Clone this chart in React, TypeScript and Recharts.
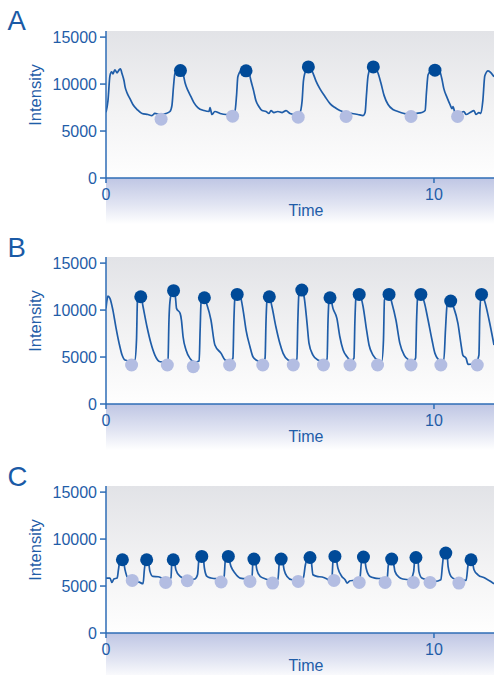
import React from "react";
import { ComposedChart, Line, Scatter, XAxis, YAxis, Label } from "recharts";

// time, intensity pairs
const traceA: number[][] = [
  [0, 7000], [0.06, 8240], [0.12, 10880], [0.17, 11300], [0.21, 11090], [0.27, 11510],
  [0.34, 11200], [0.4, 11510], [0.44, 11620], [0.49, 11090], [0.55, 10350], [0.58, 9720],
  [0.64, 9080], [0.73, 8450], [0.82, 7820], [0.95, 7290], [1.1, 6870], [1.28, 6760],
  [1.4, 6650], [1.49, 6870], [1.65, 6760], [1.83, 6870], [1.95, 7080], [2.01, 7710],
  [2.06, 9820], [2.1, 11090], [2.19, 11410], [2.29, 11410], [2.35, 11090], [2.41, 10140],
  [2.5, 9300], [2.59, 8660], [2.68, 8030], [2.8, 7500], [2.99, 7180], [3.14, 7080],
  [3.17, 7500], [3.23, 6760], [3.32, 7080], [3.48, 6870], [3.66, 6760], [3.84, 6870],
  [3.93, 7080], [3.98, 8770], [4.02, 10770], [4.12, 11410], [4.27, 11510], [4.36, 11200],
  [4.42, 10350], [4.5, 9300], [4.57, 8240], [4.66, 7610], [4.76, 7180], [4.88, 7080],
  [4.97, 6870], [5.03, 7180], [5.12, 6970], [5.24, 7080], [5.37, 6970], [5.49, 7180],
  [5.61, 6870], [5.76, 6760], [5.91, 6970], [5.98, 8240], [6.02, 10350], [6.1, 11510],
  [6.19, 11830], [6.28, 11410], [6.4, 10350], [6.52, 9510], [6.68, 8660], [6.83, 7920],
  [6.98, 7500], [7.13, 7180], [7.32, 6970], [7.5, 6870], [7.68, 6760], [7.84, 6650],
  [7.9, 6970], [7.94, 8770], [7.99, 10880], [8.08, 11720], [8.2, 11720], [8.29, 11200],
  [8.38, 10140], [8.48, 8770], [8.6, 7820], [8.75, 7290], [8.9, 7080], [9.09, 6870],
  [9.27, 6760], [9.45, 6870], [9.63, 6970], [9.73, 7180], [9.77, 9080], [9.82, 10990],
  [9.91, 11410], [10.06, 11510], [10.18, 11300], [10.24, 10560], [10.3, 9510], [10.4, 8560],
  [10.49, 7820], [10.55, 7390], [10.58, 7610], [10.64, 6970], [10.79, 6870], [10.91, 7080],
  [10.98, 6760], [11.1, 6970], [11.22, 7180], [11.28, 6760], [11.37, 6970], [11.43, 6870],
  [11.49, 8240], [11.55, 10880], [11.65, 11410], [11.74, 11200], [11.83, 10770],
];
const peaksA: number[][] = [[2.27, 11440], [4.27, 11410], [6.17, 11830], [8.15, 11830], [10.03, 11480]];
const troughsA: number[][] = [[1.68, 6260], [3.86, 6580], [5.86, 6480], [7.32, 6550], [9.3, 6550], [10.72, 6550]];

const traceB: number[][] = [
  [0, 10180], [0.03, 11070], [0.06, 11490], [0.12, 11250], [0.21, 10000], [0.3, 8220],
  [0.4, 6460], [0.49, 5210], [0.58, 4680], [0.73, 4580], [0.88, 4680], [0.93, 6810],
  [0.96, 11070], [1.01, 11390], [1.07, 11390], [1.13, 10350], [1.25, 8220], [1.37, 6460],
  [1.49, 5210], [1.65, 4500], [1.8, 4470], [1.89, 4680], [1.92, 8940], [1.95, 10890],
  [2.01, 11920], [2.07, 12060], [2.12, 11280], [2.15, 10180], [2.26, 9650], [2.3, 8940],
  [2.35, 7160], [2.44, 5750], [2.56, 4860], [2.71, 4470], [2.84, 4580], [2.87, 7870],
  [2.9, 10850], [2.99, 11310], [3.08, 10530], [3.2, 8940], [3.32, 6280], [3.51, 5390],
  [3.63, 4680], [3.78, 4520], [3.87, 4890], [3.9, 8940], [3.93, 11280], [4.01, 11670],
  [4.09, 11490], [4.18, 10000], [4.27, 7870], [4.39, 6100], [4.48, 5030], [4.63, 4580],
  [4.79, 4470], [4.85, 4890], [4.88, 8940], [4.91, 11070], [4.98, 11420], [5.06, 10350],
  [5.18, 8220], [5.3, 6460], [5.4, 5390], [5.55, 4680], [5.7, 4520], [5.82, 4790],
  [5.85, 8940], [5.88, 11600], [5.97, 12130], [6.04, 11420], [6.13, 8590], [6.19, 6460],
  [6.31, 5210], [6.46, 4680], [6.62, 4520], [6.74, 4790], [6.77, 8940], [6.8, 11070],
  [6.84, 11310], [6.92, 10180], [7.04, 9120], [7.13, 7160], [7.23, 5750], [7.35, 5030],
  [7.47, 4580], [7.56, 4890], [7.59, 8940], [7.62, 11280], [7.73, 11670], [7.84, 10350],
  [7.93, 8220], [8.02, 6280], [8.14, 5210], [8.29, 4680], [8.41, 4580], [8.46, 6810],
  [8.49, 11070], [8.63, 11670], [8.72, 10710], [8.84, 8940], [8.96, 6460], [9.09, 5210],
  [9.24, 4680], [9.36, 4520], [9.44, 4890], [9.47, 8940], [9.5, 11280], [9.6, 11670],
  [9.7, 10890], [9.82, 8940], [9.94, 6810], [10.03, 5390], [10.18, 4680], [10.3, 4680],
  [10.35, 7870], [10.4, 10530], [10.5, 10960], [10.61, 10180], [10.73, 8590], [10.82, 6460],
  [10.88, 5210], [10.98, 4860], [11.04, 4220], [11.19, 4260], [11.31, 4580], [11.37, 5210],
  [11.4, 10000], [11.45, 11670], [11.55, 10890], [11.68, 8940], [11.83, 6280],
];
const peaksB: number[][] = [
  [1.06, 11420], [2.06, 12060], [3.0, 11310], [4.0, 11670], [4.98, 11420], [5.97, 12130],
  [6.83, 11310], [7.72, 11670], [8.63, 11670], [9.6, 11670], [10.51, 10960], [11.45, 11670],
];
const troughsB: number[][] = [
  [0.78, 4150], [1.87, 4150], [2.66, 3970], [3.77, 4150], [4.78, 4150], [5.71, 4150],
  [6.63, 4150], [7.44, 4150], [8.28, 4150], [9.3, 4150], [10.21, 4150], [11.32, 4150],
];

const traceC: number[][] = [
  [0, 5850], [0.12, 5850], [0.18, 5380], [0.24, 5750], [0.34, 5850], [0.38, 6740],
  [0.43, 7800], [0.52, 7800], [0.58, 6740], [0.64, 6020], [0.76, 5670], [0.85, 5490],
  [1.01, 5410], [1.13, 5250], [1.17, 6740], [1.22, 7800], [1.28, 7800], [1.34, 6560],
  [1.43, 6020], [1.59, 5990], [1.74, 5780], [1.89, 5670], [1.98, 5880], [2.01, 7590],
  [2.07, 7800], [2.13, 6740], [2.26, 6020], [2.35, 5850], [2.53, 5670], [2.71, 5750],
  [2.79, 6200], [2.84, 8010], [2.96, 8120], [3.0, 6920], [3.08, 6020], [3.2, 5850],
  [3.35, 5780], [3.51, 5670], [3.6, 5990], [3.64, 7800], [3.72, 8120], [3.81, 7090],
  [3.93, 6380], [4.09, 5850], [4.27, 5780], [4.45, 5830], [4.48, 7590], [4.54, 7870],
  [4.6, 6740], [4.7, 6020], [4.85, 5780], [5.06, 5560], [5.24, 5670], [5.29, 7590],
  [5.37, 7870], [5.43, 6740], [5.52, 6020], [5.67, 5670], [5.85, 5670], [6.01, 5780],
  [6.08, 7270], [6.16, 8040], [6.25, 7800], [6.31, 6200], [6.43, 6020], [6.59, 5960],
  [6.74, 5750], [6.83, 5560], [6.89, 5880], [6.92, 7590], [7.0, 8120], [7.07, 6920],
  [7.19, 6020], [7.29, 5670], [7.35, 5320], [7.44, 5560], [7.59, 5620], [7.74, 5780],
  [7.79, 7590], [7.87, 8090], [7.93, 6920], [8.05, 6020], [8.2, 5850], [8.38, 5780],
  [8.57, 5670], [8.61, 7270], [8.69, 7870], [8.78, 7160], [8.81, 6560], [8.93, 5960],
  [9.05, 5750], [9.27, 5670], [9.38, 6520], [9.42, 8010], [9.51, 7800], [9.54, 6560],
  [9.63, 5850], [9.79, 5670], [10.03, 5490], [10.21, 5670], [10.26, 7270], [10.3, 8440],
  [10.4, 8330], [10.43, 7090], [10.52, 6020], [10.64, 5750], [10.82, 5670], [10.98, 5600],
  [11.04, 7270], [11.1, 7800], [11.17, 7590], [11.22, 6740], [11.34, 6200], [11.55, 5850],
  [11.83, 5250],
];
const peaksC: number[][] = [
  [0.5, 7800], [1.24, 7800], [2.05, 7800], [2.92, 8150], [3.73, 8150], [4.51, 7870],
  [5.34, 7870], [6.22, 8040], [6.98, 8150], [7.85, 8080], [8.71, 7870], [9.45, 8040],
  [10.36, 8510], [11.13, 7800],
];
const troughsC: number[][] = [
  [0.8, 5600], [1.82, 5380], [2.48, 5560], [3.51, 5430], [4.39, 5490], [5.08, 5320],
  [5.86, 5490], [6.95, 5600], [7.72, 5380], [8.51, 5380], [9.37, 5380], [9.88, 5380],
  [10.76, 5320],
];

const yTicks = [0, 5000, 10000, 15000];
const xTicks = [0, 10];

const BLUE = "#1f5da8";
const AXIS = "#2e6db6";
const DARK = "#004a98";
const LIGHT = "#b3bde2";
const FONT = "'Liberation Sans', Arial, sans-serif";

const W = 494;
const PLOT_H = 147;
const Y_MAX = 15650;
const X_MAX = 11.83;

const toPts = (arr: number[][]) => arr.map(([t, v]) => ({ t, v }));

const dot = (color: string) => (p: any) => (
  <circle cx={p.cx} cy={p.cy} r={6.5} fill={color} stroke="none" />
);

function Panel({ letter, top, plotTop, trace, peaks, troughs }: any) {
  const chartH = plotTop + PLOT_H + 48;
  return (
    <div style={{ position: "absolute", left: 0, top, width: W, height: chartH }}>
      <div
        style={{
          position: "absolute",
          left: 106,
          top: plotTop,
          width: W - 106,
          height: PLOT_H,
          background: "linear-gradient(#e2e3e7, #f3f3f4 55%, #fefefe)",
        }}
      />
      <div
        style={{
          position: "absolute",
          left: 106,
          top: plotTop + PLOT_H,
          width: W - 106,
          height: 46,
          background: "linear-gradient(#bfc6e4, #e3e6f3 60%, #ffffff)",
        }}
      />
      <ComposedChart
        width={W}
        height={chartH}
        margin={{ top: plotTop, right: 0, left: 0, bottom: 0 }}
        style={{ position: "absolute", left: 0, top: 0 }}
      >
        <XAxis
          dataKey="t"
          type="number"
          domain={[0, X_MAX]}
          ticks={xTicks}
          height={48}
          stroke={AXIS}
          strokeWidth={1.5}
          tickSize={5}
          tickMargin={6}
          tick={{ fill: BLUE, fontSize: 16, fontFamily: FONT }}
          allowDataOverflow
        >
          <Label
            content={({ viewBox }: any) => (
              <text
                x={viewBox.x + viewBox.width / 2 + 6}
                y={viewBox.y + 37.5}
                textAnchor="middle"
                fill={BLUE}
                fontSize={16}
                fontFamily={FONT}
              >
                Time
              </text>
            )}
          />
        </XAxis>
        <YAxis
          type="number"
          domain={[0, Y_MAX]}
          ticks={yTicks}
          width={106}
          stroke={AXIS}
          strokeWidth={1.5}
          tickSize={6}
          tickMargin={3}
          tick={{ fill: BLUE, fontSize: 16, fontFamily: FONT }}
          allowDataOverflow
        >
          <Label
            content={({ viewBox }: any) => (
              <text
                x={viewBox.x + 35}
                y={viewBox.y + 64}
                transform={`rotate(-90 ${viewBox.x + 35} ${viewBox.y + 64})`}
                textAnchor="middle"
                dominantBaseline="central"
                fill={BLUE}
                fontSize={16.5}
                fontFamily={FONT}
              >
                Intensity
              </text>
            )}
          />
        </YAxis>
        <Line
          data={toPts(trace)}
          dataKey="v"
          type="monotone"
          stroke={BLUE}
          strokeWidth={1.7}
          dot={false}
          activeDot={false}
          isAnimationActive={false}
        />
        <Scatter data={toPts(troughs)} dataKey="v" shape={dot(LIGHT)} isAnimationActive={false} />
        <Scatter data={toPts(peaks)} dataKey="v" shape={dot(DARK)} isAnimationActive={false} />
        <text x={7.5} y={29.5} fontSize={27.5} fill="#1a5aa6" fontFamily={FONT}>
          {letter}
        </text>
      </ComposedChart>
    </div>
  );
}

export default function App() {
  return (
    <div
      style={{
        position: "absolute",
        left: 0,
        top: 0,
        width: W,
        height: 675,
        background: "#fff",
        overflow: "hidden",
        fontFamily: FONT,
      }}
    >
      <Panel letter="A" top={0} plotTop={31} trace={traceA} peaks={peaksA} troughs={troughsA} />
      <Panel letter="B" top={227} plotTop={30} trace={traceB} peaks={peaksB} troughs={troughsB} />
      <Panel letter="C" top={456} plotTop={30} trace={traceC} peaks={peaksC} troughs={troughsC} />
    </div>
  );
}
